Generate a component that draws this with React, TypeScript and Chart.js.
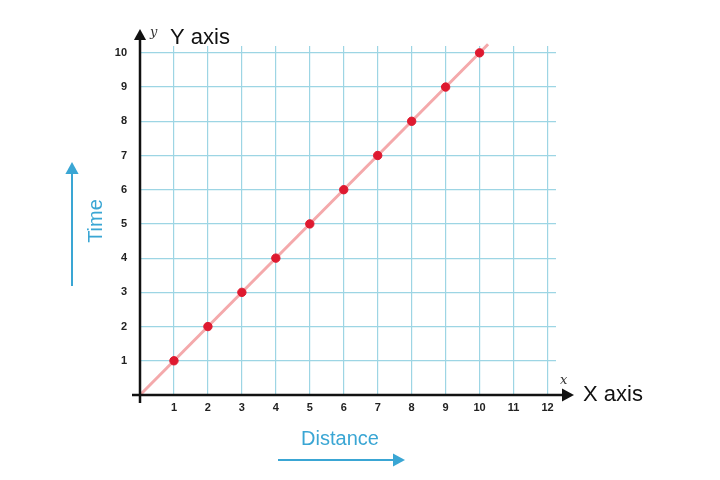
import { useEffect, useRef } from "react"
import { Chart, registerables } from "chart.js"

Chart.register(...registerables)

// data
const pointX = [1, 2, 3, 4, 5, 6, 7, 8, 9, 10]
const pointY = [1, 2, 3, 4, 5, 6, 7, 8, 9, 10]
const trendX = [0, 10.25]
const trendY = [0, 10.25]
const xTicks = [1, 2, 3, 4, 5, 6, 7, 8, 9, 10, 11, 12]
const yTicks = [1, 2, 3, 4, 5, 6, 7, 8, 9, 10]

const BLUE = "#3aa6d4"
const GRID = "#9dd5e4"

const arrowHead = (ctx: CanvasRenderingContext2D, x: number, y: number, dir: "up" | "right", size: number) => {
  ctx.beginPath()
  if (dir === "up") {
    ctx.moveTo(x, y - size)
    ctx.lineTo(x - size * 0.55, y)
    ctx.lineTo(x + size * 0.55, y)
  } else {
    ctx.moveTo(x + size, y)
    ctx.lineTo(x, y - size * 0.55)
    ctx.lineTo(x, y + size * 0.55)
  }
  ctx.closePath()
  ctx.fill()
}

const axesPlugin = {
  id: "axesDecor",
  afterDraw(chart: Chart) {
    const ctx = chart.ctx
    const x0 = chart.scales.x.getPixelForValue(0)
    const y0 = chart.scales.y.getPixelForValue(0)
    ctx.save()

    // black axes with arrows
    ctx.strokeStyle = "#111"
    ctx.fillStyle = "#111"
    ctx.lineWidth = 2.5
    ctx.beginPath()
    ctx.moveTo(x0, y0 + 8)
    ctx.lineTo(x0, 38)
    ctx.moveTo(x0 - 8, y0)
    ctx.lineTo(564, y0)
    ctx.stroke()
    arrowHead(ctx, x0, 40, "up", 11)
    arrowHead(ctx, 562, y0, "right", 12)

    // axis names
    ctx.font = "italic 13px 'DejaVu Serif'"
    ctx.textBaseline = "alphabetic"
    ctx.textAlign = "left"
    ctx.fillStyle = "#333"
    ctx.fillText("y", 150, 36)
    ctx.fillText("x", 560, 384)
    ctx.fillStyle = "#111"
    ctx.font = "22px 'Liberation Sans'"
    ctx.fillText("Y axis", 170, 44)
    ctx.fillText("X axis", 583, 401)

    // Time label + arrow
    ctx.fillStyle = BLUE
    ctx.strokeStyle = BLUE
    ctx.lineWidth = 2
    ctx.save()
    ctx.translate(102, 221)
    ctx.rotate(-Math.PI / 2)
    ctx.textAlign = "center"
    ctx.font = "20px 'Liberation Sans'"
    ctx.fillText("Time", 0, 0)
    ctx.restore()
    ctx.beginPath()
    ctx.moveTo(72, 286)
    ctx.lineTo(72, 172)
    ctx.stroke()
    arrowHead(ctx, 72, 174, "up", 12)

    // Distance label + arrow
    ctx.textAlign = "center"
    ctx.font = "20px 'Liberation Sans'"
    ctx.fillText("Distance", 340, 445)
    ctx.beginPath()
    ctx.moveTo(278, 460)
    ctx.lineTo(394, 460)
    ctx.stroke()
    arrowHead(ctx, 393, 460, "right", 12)

    ctx.restore()
  },
}

export default function App() {
  const chartRef = useRef<HTMLCanvasElement>(null)
  const chartInstance = useRef<Chart | null>(null)

  useEffect(() => {
    document.body.style.margin = "0"
    if (!chartRef.current) return
    if (chartInstance.current) chartInstance.current.destroy()
    const ctx = chartRef.current.getContext("2d")
    if (!ctx) return

    chartInstance.current = new Chart(ctx, {
      type: "scatter",
      data: {
        datasets: [
          {
            label: "Points",
            data: pointX.map((x, i) => ({ x, y: pointY[i] })),
            backgroundColor: "#de1a30",
            borderColor: "#de1a30",
            pointRadius: 4.2,
            pointHoverRadius: 4.2,
          },
          {
            label: "Trend",
            data: trendX.map((x, i) => ({ x, y: trendY[i] })),
            showLine: true,
            borderColor: "#f4a9ab",
            borderWidth: 3,
            pointRadius: 0,
            clip: false,
          },
        ],
      },
      options: {
        animation: false,
        responsive: false,
        layout: { padding: { left: 0, top: 46, right: 164, bottom: 0 } },
        plugins: {
          legend: { display: false },
          tooltip: { enabled: false },
        },
        scales: {
          x: {
            type: "linear",
            min: 0,
            max: 12.25,
            afterFit: (scale) => {
              scale.height = 85
            },
            afterBuildTicks: (scale) => {
              scale.ticks = [0, ...xTicks].map((value) => ({ value }))
            },
            border: { display: false },
            grid: { color: GRID, lineWidth: 1.2, drawTicks: false },
            ticks: {
              padding: 6,
              color: "#222",
              font: { family: "'Liberation Sans'", size: 11, weight: "bold" },
              callback: (v) => (v === 0 ? "" : String(v)),
            },
          },
          y: {
            type: "linear",
            min: 0,
            max: 10.2,
            afterFit: (scale) => {
              scale.width = 140
            },
            afterBuildTicks: (scale) => {
              scale.ticks = [0, ...yTicks].map((value) => ({ value }))
            },
            border: { display: false },
            grid: { color: GRID, lineWidth: 1.2, drawTicks: false },
            ticks: {
              padding: 13,
              color: "#222",
              font: { family: "'Liberation Sans'", size: 11, weight: "bold" },
              callback: (v) => (v === 0 ? "" : String(v)),
            },
          },
        },
      },
      plugins: [axesPlugin],
    })

    return () => {
      if (chartInstance.current) {
        chartInstance.current.destroy()
        chartInstance.current = null
      }
    }
  }, [])

  return (
    <div style={{ width: 720, height: 480, background: "#fff" }}>
      <canvas ref={chartRef} width={720} height={480} />
    </div>
  )
}
